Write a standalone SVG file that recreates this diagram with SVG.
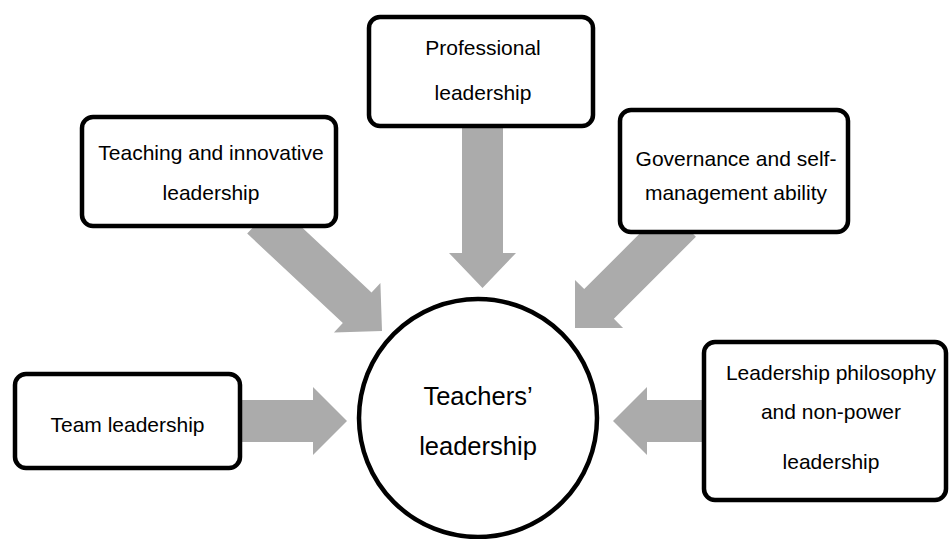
<svg xmlns="http://www.w3.org/2000/svg" width="950" height="539" viewBox="0 0 950 539">
<style>
.box{fill:#fff;stroke:#000;stroke-width:4.5}
.arr{fill:#ababab;stroke:none}
.t{font-family:"Liberation Sans",Arial,sans-serif;font-size:21px;fill:#000;text-anchor:middle}
.tc{font-family:"Liberation Sans",Arial,sans-serif;font-size:25.5px;fill:#000;text-anchor:middle}
</style>
<rect width="950" height="539" fill="#fff"/>
<g id="connectors">
<polygon class="arr" points="462,120 503,120 503,253 516,253 482.5,288 449,253 462,253"/>
<polygon class="arr" points="236,400 313,400 313,387 347,421 313,455 313,442 236,442"/>
<polygon class="arr" points="708,400 647,400 647,387 613,421 647,455 647,442 708,442"/>
<polygon class="arr" transform="translate(382,331) rotate(43.1)" points="-165,-21 -34,-21 -34,-34 0,0 -34,34 -34,21 -165,21"/>
<polygon class="arr" transform="translate(575,328) rotate(135)" points="-150,-21 -34,-21 -34,-34 0,0 -34,34 -34,21 -150,21"/>
</g>
<g id="professional">
<rect class="box" x="369" y="17" width="224" height="109" rx="11"/>
<text class="t" x="483" y="55">Professional</text>
<text class="t" x="483" y="100">leadership</text>
</g>
<g id="teaching">
<rect class="box" x="82" y="117" width="254" height="109" rx="11"/>
<text class="t" x="211" y="160">Teaching and innovative</text>
<text class="t" x="211" y="200">leadership</text>
</g>
<g id="governance">
<rect class="box" x="620" y="110" width="228" height="122" rx="11"/>
<text class="t" x="736" y="166">Governance and self-</text>
<text class="t" x="736" y="200">management ability</text>
</g>
<g id="team">
<rect class="box" x="15" y="374" width="225" height="94" rx="11"/>
<text class="t" x="127.5" y="432">Team leadership</text>
</g>
<g id="philosophy">
<rect class="box" x="704" y="342" width="242" height="158" rx="11"/>
<text class="t" x="831" y="380">Leadership philosophy</text>
<text class="t" x="831" y="419">and non-power</text>
<text class="t" x="831" y="469">leadership</text>
</g>
<g id="center">
<circle class="box" cx="478" cy="418" r="119"/>
<text class="tc" x="478" y="405">Teachers’</text>
<text class="tc" x="478" y="455">leadership</text>
</g>
</svg>
